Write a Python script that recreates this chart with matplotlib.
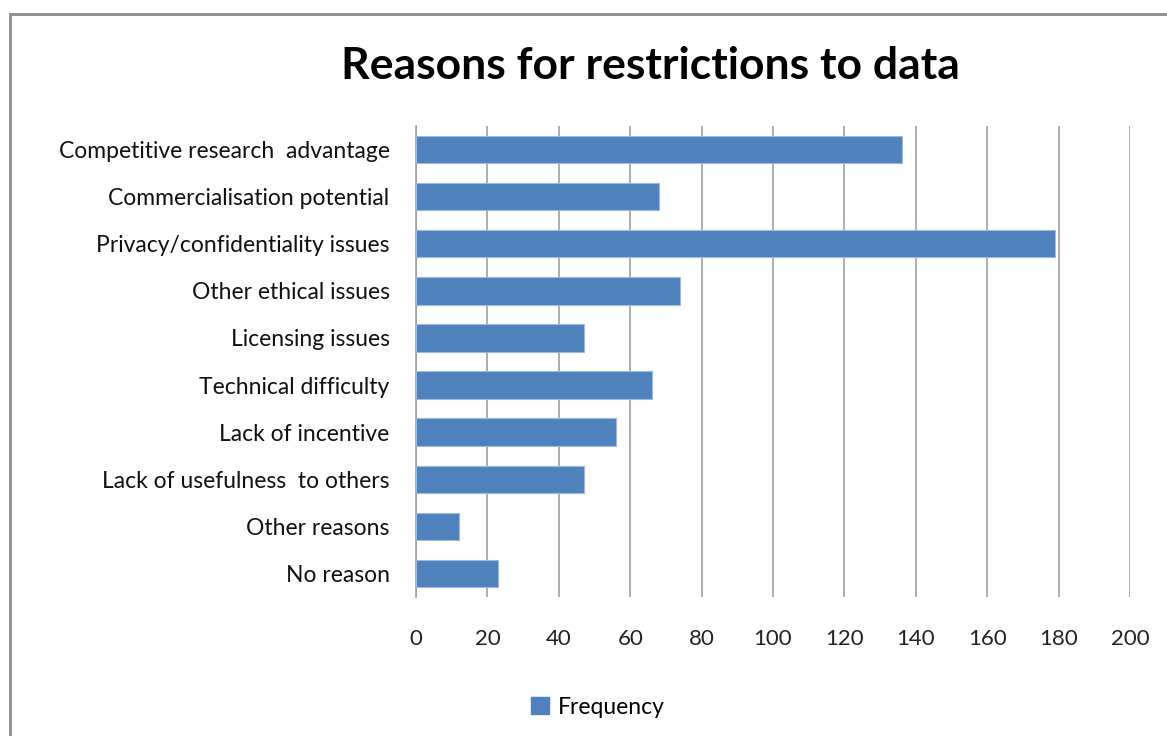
import matplotlib
matplotlib.use("Agg")
import matplotlib.pyplot as plt
import matplotlib.patches as mpatches

# data
categories = [
    "Competitive research  advantage",
    "Commercialisation potential",
    "Privacy/confidentiality issues",
    "Other ethical issues",
    "Licensing issues",
    "Technical difficulty",
    "Lack of incentive",
    "Lack of usefulness  to others",
    "Other reasons",
    "No reason",
]
frequency = [136, 68, 179, 74, 47, 66, 56, 47, 12, 23]
x_ticks = [0, 20, 40, 60, 80, 100, 120, 140, 160, 180, 200]

BAR = "#4F81BD"
GRID = "#A0A0A0"

plt.rcParams["font.family"] = ["Lato", "DejaVu Sans"]

fig = plt.figure(figsize=(11.67, 7.36), dpi=100, facecolor="white")

# outer chart border (right/bottom edges fall off the image)
fig.patches.append(mpatches.Rectangle(
    (10 / 1167, -0.05), 1.1, 1 - 14 / 736 + 0.05,
    transform=fig.transFigure, fill=False, edgecolor="#8C8C8C", lw=2))

ax = fig.add_axes([416 / 1167, 1 - 597 / 736, (1130 - 416) / 1167, (597 - 126) / 736])

ypos = list(range(len(categories)))
ax.barh(ypos, frequency, height=0.58, color=BAR, edgecolor="#9DB9DE", lw=0.8, zorder=3,
        label="Frequency")

ax.set_ylim(len(categories) - 0.5, -0.5)
ax.set_xlim(0, 200)
ax.set_xticks(x_ticks)
ax.set_xticklabels([str(t) for t in x_ticks], fontsize=16, color="#222222")
ax.set_yticks(ypos)
ax.set_yticklabels(categories, fontsize=16.5, color="#111111")
ax.tick_params(axis="y", length=0, pad=19)
ax.tick_params(axis="x", length=0, pad=23)

ax.grid(axis="x", color=GRID, lw=1.2, zorder=0)
for s in ["top", "right", "bottom"]:
    ax.spines[s].set_visible(False)
ax.spines["left"].set_color(GRID)
ax.spines["left"].set_linewidth(1.2)

fig.text(650 / 1167, 1 - 66 / 736, "Reasons for restrictions to data",
         ha="center", va="center", fontsize=32, fontweight="bold", color="black")

fig.legend(handles=[mpatches.Patch(color=BAR, label="Frequency")],
           loc="center", bbox_to_anchor=(598 / 1167, 1 - 707 / 736),
           frameon=False, fontsize=16.5, handlelength=0.75, handleheight=0.75,
           handletextpad=0.4)

fig.savefig("out.png", dpi=100)
